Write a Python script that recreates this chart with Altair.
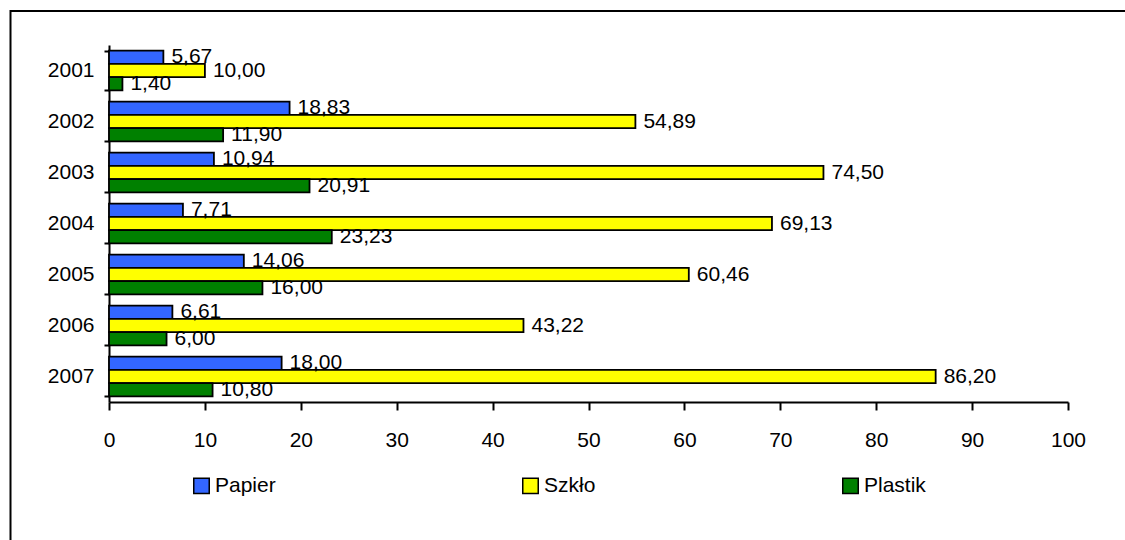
import altair as alt
import pandas as pd

# Years on the category axis, top to bottom
years = ["2001", "2002", "2003", "2004", "2005", "2006", "2007"]
# Material series, in the order they are stacked within each year
series = ["Papier", "Szkło", "Plastik"]
colors = ["#3366FF", "#FFFF00", "#008000"]

papier = [5.67, 18.83, 10.94, 7.71, 14.06, 6.61, 18.00]
szklo = [10.00, 54.89, 74.50, 69.13, 60.46, 43.22, 86.20]
plastik = [1.40, 11.90, 20.91, 23.23, 16.00, 6.00, 10.80]

x_ticks = list(range(0, 101, 10))

rows = []
for name, vals in zip(series, [papier, szklo, plastik]):
    for yr, v in zip(years, vals):
        rows.append({
            "rok": yr,
            "rodzaj": name,
            "wartosc": v,
            "etykieta": f"{v:.2f}".replace(".", ","),
        })
df = pd.DataFrame(rows)

FONT = "Liberation Sans, Arial, sans-serif"
FS = 21

x_enc = alt.X(
    "wartosc:Q",
    title=None,
    scale=alt.Scale(domain=[0, 100], nice=False),
    axis=alt.Axis(values=x_ticks, tickSize=8, labelPadding=19, labelFlush=False),
)
y_enc = alt.Y(
    "rok:N",
    sort=years,
    title=None,
    scale=alt.Scale(paddingInner=0.22, paddingOuter=0.11),
    axis=alt.Axis(tickBand="extent", tickSize=5, labelPadding=10),
)
yoff_enc = alt.YOffset(
    "rodzaj:N",
    sort=series,
    scale=alt.Scale(domain=series, paddingInner=0, paddingOuter=0),
)
color_enc = alt.Color(
    "rodzaj:N",
    sort=series,
    scale=alt.Scale(domain=series, range=colors),
    legend=alt.Legend(
        title=None,
        orient="none",
        legendX=82,
        legendY=430,
        direction="horizontal",
        columnPadding=243,
        symbolType="square",
        symbolSize=240,
        symbolStrokeColor="black",
        symbolStrokeWidth=1.5,
        symbolOpacity=1,
        labelFont=FONT,
        labelFontSize=FS,
        labelColor="black",
        labelOffset=3,
    ),
)

bars = alt.Chart(df).mark_bar(stroke="black", strokeWidth=1.8, opacity=1).encode(
    x=x_enc, y=y_enc, yOffset=yoff_enc, color=color_enc
)

labels = alt.Chart(df).mark_text(
    align="left", baseline="middle", dx=8, fontSize=FS, font=FONT, color="black"
).encode(x=x_enc, y=y_enc, yOffset=yoff_enc, text="etykieta:N")

# Outer frame around the whole figure (top and left edges)
frame_src = pd.DataFrame({"k": [0]})
frame_top = alt.Chart(frame_src).mark_rule(color="black", strokeWidth=2).encode(
    x=alt.value(-99), x2=alt.value(1100), y=alt.value(-34)
)
frame_left = alt.Chart(frame_src).mark_rule(color="black", strokeWidth=2).encode(
    x=alt.value(-98.5), y=alt.value(-35), y2=alt.value(600)
)

chart = (
    alt.layer(bars, labels, frame_top, frame_left)
    .properties(
        width=959,
        height=357,
        padding={"left": 109, "top": 45, "right": 57, "bottom": 138},
        autosize=alt.AutoSizeParams(type="none"),
        background="white",
    )
    .configure_view(stroke=None)
    .configure_axis(
        grid=False,
        domainColor="black",
        domainWidth=2,
        tickColor="black",
        tickWidth=2,
        labelColor="black",
        labelFont=FONT,
        labelFontSize=FS,
    )
)

chart.save("out.html", embed_options={"renderer": "svg", "actions": False})
